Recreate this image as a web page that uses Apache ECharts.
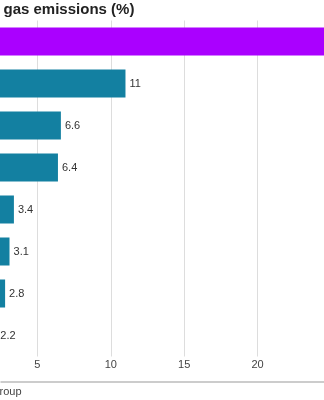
<!DOCTYPE html>
<html>
<head>
<meta charset="utf-8">
<script src="https://cdn.jsdelivr.net/npm/echarts@6/dist/echarts.min.js"></script>
<style>
html,body{margin:0;padding:0;background:#fff;overflow:hidden;width:324px;height:400px;position:relative;}
#c{position:absolute;left:-36.5px;top:0;width:380px;height:400px;}
</style>
</head>
<body>
<div id="c"></div>
<script>
const categories = ["A", "B", "C", "D", "E", "F", "G", "H"];
const values = [26, 11, 6.6, 6.4, 3.4, 3.1, 2.8, 2.2];
const barColors = ["#AA00FF", "#1380A1", "#1380A1", "#1380A1", "#1380A1", "#1380A1", "#1380A1", "#1380A1"];
const tickValues = [0, 5, 10, 15, 20, 25];
const titleText = "gas emissions (%)";
const footerText = "roup";

const OFF = 36.5; // container shifted left so the chart appears cropped
const chart = echarts.init(document.getElementById('c'), null, {renderer: 'canvas'});
chart.setOption({
  animation: false,
  backgroundColor: '#fff',
  textStyle: {fontFamily: 'Liberation Sans, Arial, sans-serif'},
  grid: {left: 0, right: 13, top: 20.5, height: 336, containLabel: false, outerBoundsMode: 'none'},
  xAxis: {
    type: 'value', min: tickValues[0], max: tickValues[tickValues.length - 1], interval: 5,
    axisLine: {show: false}, axisTick: {show: false},
    splitLine: {show: true, lineStyle: {color: '#dddddd', width: 1}},
    axisLabel: {color: '#444', fontSize: 11, margin: 3}
  },
  yAxis: {
    type: 'category', data: categories, inverse: true,
    axisLine: {show: false}, axisTick: {show: false}, axisLabel: {show: false}
  },
  series: [{
    type: 'bar',
    data: values.map((v, i) => ({value: v, itemStyle: {color: barColors[i]}})),
    barWidth: 28,
    label: {show: true, position: 'right', distance: 4, color: '#333', fontSize: 11}
  }],
  graphic: [
    {type: 'text', left: 3 + OFF, top: 2, style: {text: titleText, font: 'bold 15px Liberation Sans, Arial, sans-serif', fill: '#222'}},
    {type: 'line', shape: {x1: OFF, y1: 382, x2: OFF + 324, y2: 382}, style: {stroke: '#cccccc', lineWidth: 2}},
    {type: 'text', left: OFF - 1, top: 386, style: {text: footerText, font: '11px Liberation Sans, Arial, sans-serif', fill: '#444'}}
  ]
});
</script>
</body>
</html>
